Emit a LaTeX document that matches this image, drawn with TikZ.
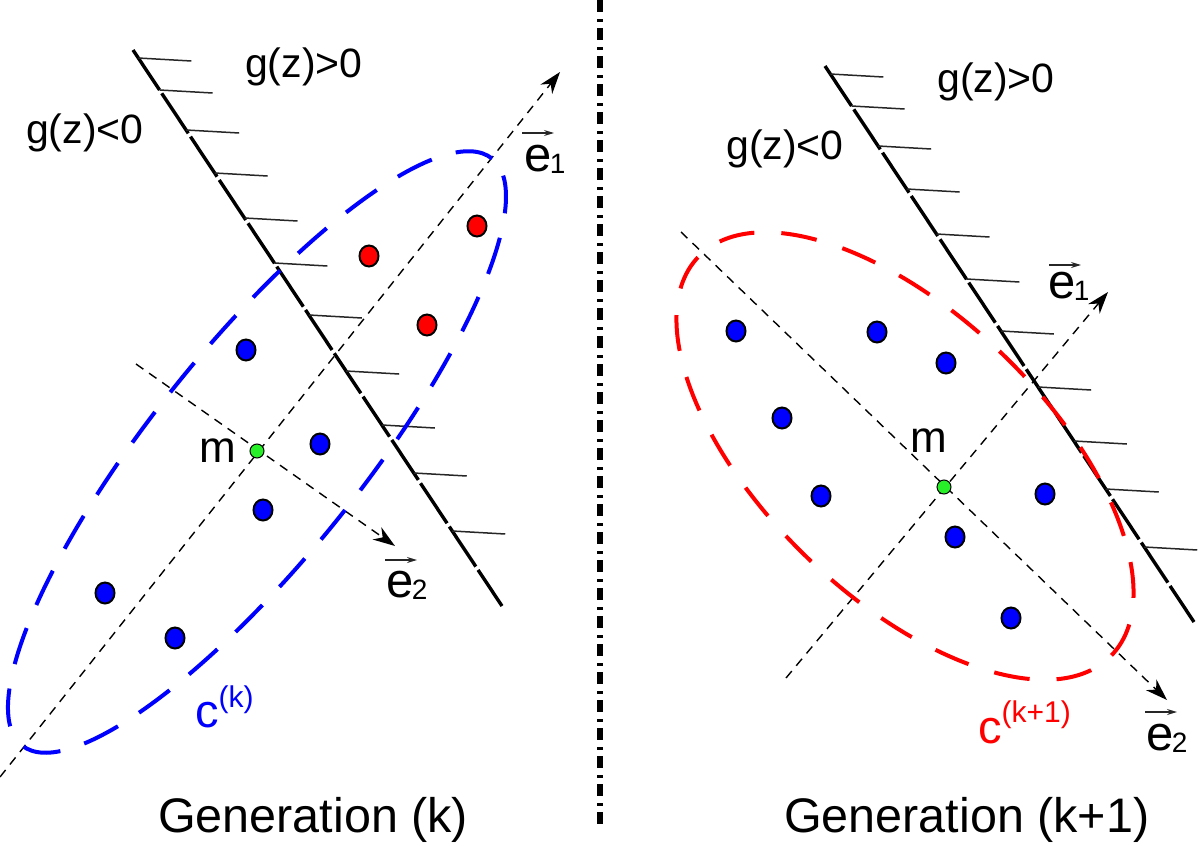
\documentclass[tikz,border=0pt]{standalone}
\usepackage{fontspec}
\setmainfont{Liberation Sans}
\usetikzlibrary{arrows.meta,shapes.geometric,calc}
\definecolor{dotblue}{RGB}{0,0,255}
\definecolor{dotred}{RGB}{255,0,0}
\definecolor{mgreen}{RGB}{40,240,40}
\tikzset{
  axisline/.style={line width=1.4bp, dash pattern=on 9bp off 7bp, -{Stealth[length=22bp,width=15bp,inset=7bp]}},
  bound/.style={line width=3.4bp, dash pattern=on 48bp off 4bp},
  hatchline/.style={line width=1.5bp, draw=black!85},
  divider/.style={line width=6bp, dash pattern=on 12bp off 7bp on 3bp off 6bp},
  covblue/.style={draw=dotblue, line width=4bp, dash pattern=on 38bp off 25bp},
  covred/.style={draw=dotred, line width=4bp, dash pattern=on 36bp off 27bp},
  bdot/.style={ellipse, draw=black, line width=2bp, fill=dotblue, minimum width=19bp, minimum height=21bp, inner sep=0pt},
  rdot/.style={bdot, fill=dotred},
  mdot/.style={circle, draw=black, line width=1bp, fill=mgreen, minimum size=14bp, inner sep=0pt},
  lbl/.style={inner sep=0pt, anchor=base west},
  gtxt/.style={lbl, font=\fontsize{41bp}{44bp}\selectfont},
  mtxt/.style={lbl, font=\fontsize{44bp}{46bp}\selectfont},
  etxt/.style={lbl, font=\fontsize{49bp}{50bp}\selectfont},
  ctxt/.style={lbl, font=\fontsize{47bp}{50bp}\selectfont},
  captxt/.style={lbl, font=\fontsize{48.5bp}{52bp}\selectfont},
  vecarr/.style={line width=1.3bp, draw=black!85, -{Stealth[length=10bp,width=6bp]}},
}
\newcommand{\subdig}[1]{\kern-1.5bp\raisebox{-2bp}{\fontsize{28bp}{28bp}\selectfont #1}}
\newcommand{\supcov}[2]{\raisebox{#1}{\fontsize{30bp}{30bp}\selectfont #2}}
\begin{document}
\begin{tikzpicture}[x=1bp,y=-1bp]
\useasboundingbox (0,0) rectangle (1200,846);

% ---------- divider ----------
\coordinate (dtop) at (600,0);
\coordinate (dbot) at (600,829);
\draw[divider] (dtop) -- (dbot);

% ---------- LEFT PANEL ----------
% axes
\coordinate (la1s) at (0,777);
\coordinate (la1t) at (560,72);
\coordinate (la2s) at (136,364);
\coordinate (la2t) at (395,546);
\draw[axisline] (la1s) -- (la1t);
\draw[axisline] (la2s) -- (la2t);

% boundary with hatches
\coordinate (lbs) at (133,50);
\coordinate (lbe) at (502,606);
\draw[bound] (lbs) -- (lbe);
\foreach \yy in {58,90,130,173,218,263,315,371,425,473,531}
  \draw[hatchline] ({133+(\yy-50)*0.6637},\yy) -- ++(53,3);

% covariance ellipse
\coordinate (lc) at (257,452);
\draw[covblue, rotate around={51.3:(lc)}] (lc) ellipse [x radius=376bp, y radius=105bp];

% points
\node[bdot] (lb1) at (246,350) {};
\node[bdot] (lb2) at (320,444) {};
\node[bdot] (lb3) at (263,510) {};
\node[bdot] (lb4) at (105,593) {};
\node[bdot] (lb5) at (175,638) {};
\node[rdot] (lr1) at (369,256) {};
\node[rdot] (lr2) at (477,226) {};
\node[rdot] (lr3) at (427,325) {};
\node[mdot] (lm) at (257,451) {};

% labels
\node[gtxt] (lgp) at (245,77) {g(z)>0};
\node[gtxt] (lgn) at (26,143) {g(z)<0};
\node[mtxt] (lml) at (199,462) {m};
\node[etxt] (le1) at (524,171) {e\subdig{1}};
\draw[vecarr] ($(le1.base west)+(-2,-38)$) -- ++(32,0);
\node[etxt] (le2) at (386,597) {e\subdig{2}};
\draw[vecarr] ($(le2.base west)+(-1,-37)$) -- ++(32,0);
\node[ctxt, text=dotblue] (lcl) at (195,727) {c\supcov{20bp}{(k)}};
\node[captxt] (lcap) at (158,832) {Generation (k)};

% ---------- RIGHT PANEL ----------
\coordinate (ra1s) at (786,678);
\coordinate (ra1t) at (1108,292);
\coordinate (ra2s) at (681,232);
\coordinate (ra2t) at (1167,700);
\draw[axisline] (ra1s) -- (ra1t);
\draw[axisline] (ra2s) -- (ra2t);

\begin{scope}[shift={(692,16)}]
  \coordinate (rbs) at (133,50);
  \coordinate (rbe) at (502,606);
  \draw[bound] (rbs) -- (rbe);
  \foreach \yy in {58,90,130,173,218,263,315,371,425,473,531}
    \draw[hatchline] ({133+(\yy-50)*0.6637},\yy) -- ++(53,3);
\end{scope}

\coordinate (rc) at (905,456);
\draw[covred, rotate around={-44:(rc)}] (rc) ellipse [x radius=287bp, y radius=141bp];

\node[bdot] (rb1) at (736,331) {};
\node[bdot] (rb2) at (877,332) {};
\node[bdot] (rb3) at (946,363) {};
\node[bdot] (rb4) at (782,418) {};
\node[bdot] (rb5) at (821,496) {};
\node[bdot] (rb6) at (1045,494) {};
\node[bdot] (rb7) at (955,537) {};
\node[bdot] (rb8) at (1011,618) {};
\node[mdot] (rm) at (944,487) {};

\node[gtxt] (rgp) at (937,92) {g(z)>0};
\node[gtxt] (rgn) at (726,159) {g(z)<0};
\node[mtxt] (rml) at (910,452) {m};
\node[etxt] (re1) at (1048,298) {e\subdig{1}};
\draw[vecarr] ($(re1.base west)+(1,-33)$) -- ++(32,0);
\node[etxt] (re2) at (1146,750) {e\subdig{2}};
\draw[vecarr] ($(re2.base west)+(-1,-38)$) -- ++(32,0);
\node[ctxt, text=dotred] (rcl) at (978,743) {c\supcov{21bp}{(k+1)}};
\node[captxt] (rcap) at (784,832) {Generation (k+1)};
\end{tikzpicture}
\end{document}
